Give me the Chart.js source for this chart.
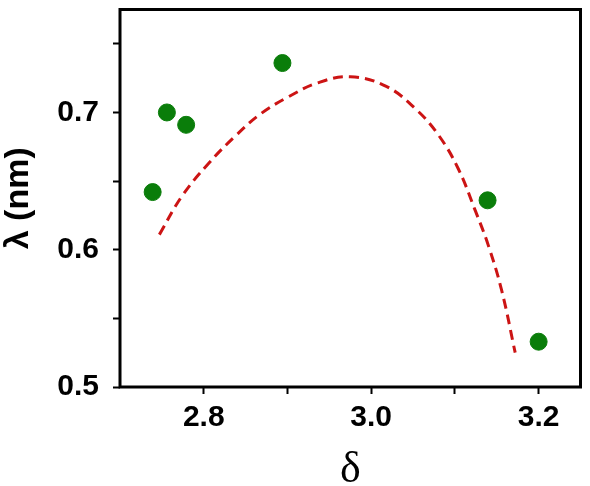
<!DOCTYPE html>
<html>
<head>
<meta charset="utf-8">
<script src="https://cdn.jsdelivr.net/npm/chart.js@4.4.1/dist/chart.umd.min.js"></script>
<style>
	html, body { margin: 0; padding: 0; background: #fff; }
	#wrap { width: 590px; height: 486px; }
</style>
</head>
<body>
<div id="wrap"><canvas id="chart" width="590" height="486"></canvas></div>
<script>
// measured points
const deltaPts = [2.739, 2.756, 2.779, 2.894, 3.139, 3.2];
const lambdaPts = [0.642, 0.7, 0.691, 0.736, 0.636, 0.533];

// fitted curve
const deltaFit = [2.747, 2.774, 2.806, 2.838, 2.868, 2.9, 2.936, 2.975, 3.018, 3.054, 3.081, 3.104, 3.124, 3.14, 3.156, 3.172];
const lambdaFit = [0.611, 0.639, 0.663, 0.683, 0.699, 0.711, 0.7215, 0.726, 0.719, 0.702, 0.683, 0.659, 0.629, 0.603, 0.57, 0.525];

const xTicks = [2.8, 2.9, 3.0, 3.1, 3.2];
const yTicks = [0.5, 0.55, 0.6, 0.65, 0.7, 0.75];

const tickFont = { family: "'Liberation Sans', Arial, sans-serif", size: 30, weight: 'bold' };

function isMajor(v, step) {
	return Math.abs(v / step - Math.round(v / step)) < 1e-6;
}

// frame around the plot area
const frame = {
	id: 'frame',
	beforeDatasetsDraw(chart) {
		const { ctx, chartArea } = chart;
		ctx.save();
		ctx.strokeStyle = '#000';
		ctx.lineWidth = 3;
		ctx.strokeRect(chartArea.left, chartArea.top, chartArea.right - chartArea.left, chartArea.bottom - chartArea.top);
		ctx.restore();
	},
};

const config = {
	type: 'scatter',
	data: {
		datasets: [
			{
				type: 'line',
				data: deltaFit.map((x, i) => ({ x, y: lambdaFit[i] })),
				borderColor: '#cc1414',
				borderWidth: 3,
				borderDash: [10, 6],
				pointRadius: 0,
				tension: 0.4,
				fill: false,
			},
			{
				data: deltaPts.map((x, i) => ({ x, y: lambdaPts[i] })),
				backgroundColor: '#0a7d0a',
				borderColor: '#0a7d0a',
				pointRadius: 8.5,
				pointHoverRadius: 8.5,
			},
		],
	},
	options: {
		responsive: false,
		animation: false,
		layout: { padding: { left: 0, right: 5, top: 1, bottom: 0 } },
		plugins: {
			legend: { display: false },
			tooltip: { enabled: false },
		},
		scales: {
			x: {
				type: 'linear',
				min: 2.7,
				max: 3.25,
				afterBuildTicks(scale) {
					scale.ticks = xTicks.map((value) => ({ value }));
				},
				afterFit(scale) {
					scale.height = 99;
					scale.paddingLeft = 0;
					scale.paddingRight = 0;
				},
				border: { display: false },
				grid: {
					drawOnChartArea: false,
					drawTicks: true,
					tickLength: 7,
					tickWidth: 2,
					tickColor: '#000',
				},
				ticks: {
					color: '#000',
					font: tickFont,
					padding: 6,
					maxRotation: 0,
					autoSkip: false,
					callback: (v) => (isMajor(v, 0.2) ? v.toFixed(1) : ''),
				},
				title: {
					display: true,
					text: 'δ',
					color: '#000',
					font: { family: "'Liberation Serif', 'Times New Roman', serif", size: 44, lineHeight: 0.7 },
					padding: 0,
				},
			},
			y: {
				type: 'linear',
				min: 0.5,
				max: 0.775,
				afterBuildTicks(scale) {
					scale.ticks = yTicks.map((value) => ({ value }));
				},
				afterFit(scale) {
					scale.width = 120;
					scale.paddingTop = 0;
					scale.paddingBottom = 0;
				},
				border: { display: false },
				grid: {
					drawOnChartArea: false,
					drawTicks: true,
					tickLength: 7,
					tickWidth: 2,
					tickColor: '#000',
				},
				ticks: {
					color: '#000',
					font: tickFont,
					padding: 14,
					autoSkip: false,
					callback: (v) => (isMajor(v, 0.1) ? v.toFixed(1) : ''),
				},
				title: {
					display: true,
					text: 'λ (nm)',
					color: '#000',
					font: { family: "'Liberation Sans', Arial, sans-serif", size: 34, weight: 'bold', lineHeight: 1.1 },
					padding: 0,
				},
			},
		},
	},
	plugins: [frame],
};

new Chart(document.getElementById('chart'), config);
</script>
</body>
</html>
